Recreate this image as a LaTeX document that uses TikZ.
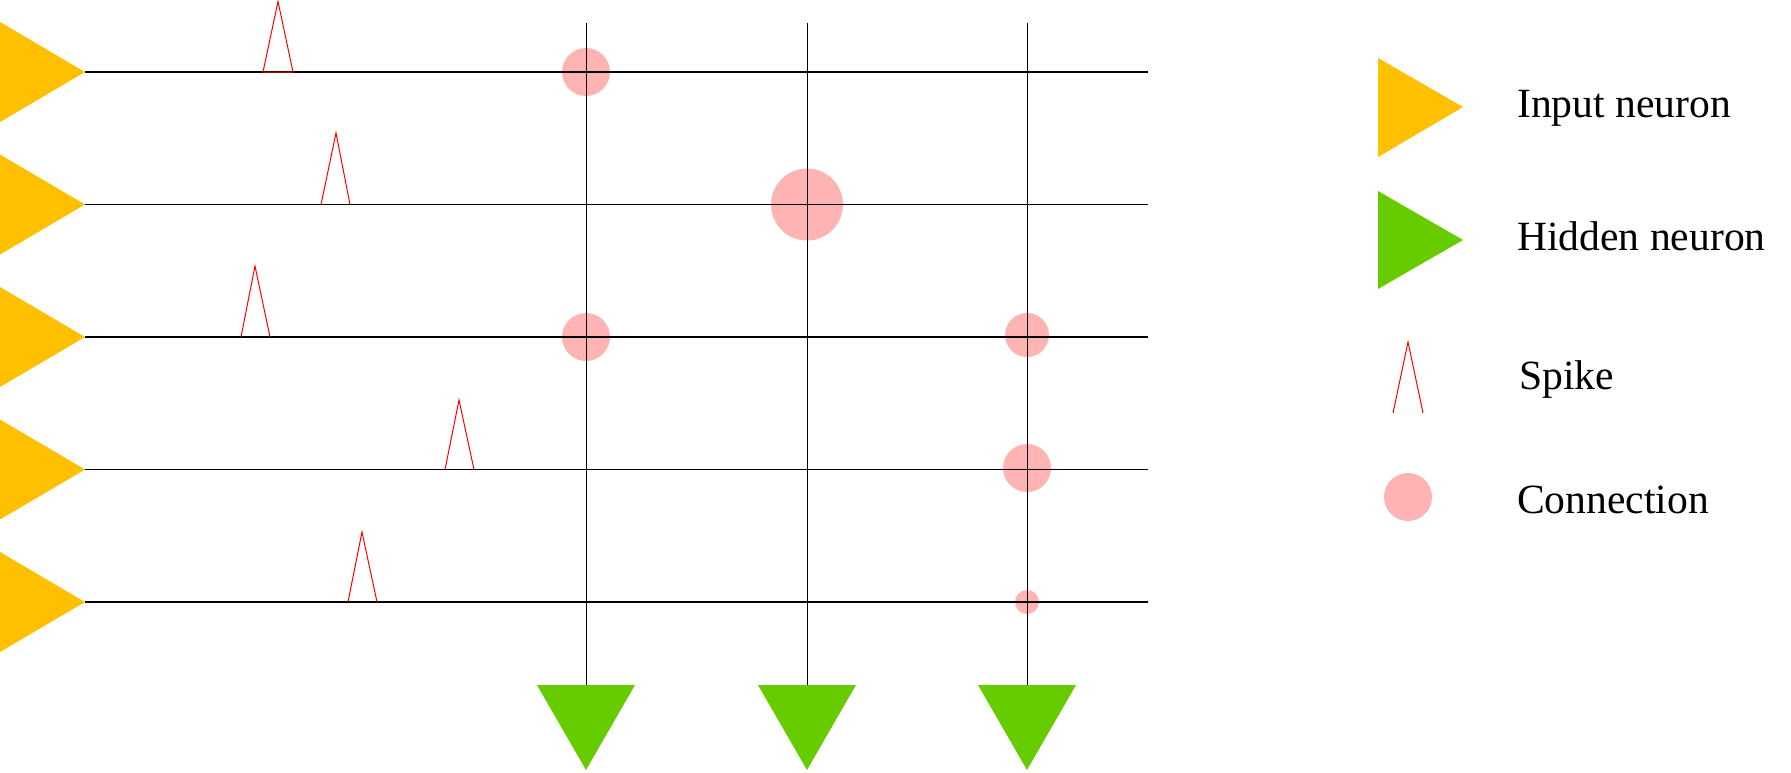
\documentclass[tikz,border=0pt]{standalone}
\usepackage{fontspec}
\setmainfont{Liberation Serif}
\definecolor{inputc}{HTML}{FFC000}
\definecolor{hiddenc}{HTML}{66CC00}
\definecolor{connc}{HTML}{FFB3B3}
\begin{document}
\begin{tikzpicture}[x=1pt,y=-1pt,
  wire/.style={black,line width=1.3pt},
  vwire/.style={black,line width=1pt},
  spikeline/.style={red,line width=1pt,line join=miter},
  conn/.style={fill=connc},
  inputtri/.style={fill=inputc},
  hiddentri/.style={fill=hiddenc},
  legtext/.style={anchor=base west,font=\fontsize{41.6}{49}\selectfont,inner sep=0pt}]
\useasboundingbox (0,0) rectangle (1791,772);
% input neurons and row ends
\foreach \i/\y in {1/72,2/204.5,3/337,4/469.5,5/602}{
  \fill[inputtri] (0,\y-50) -- (85,\y) -- (0,\y+50) -- cycle;
  \coordinate (in\i) at (85,\y);
  \coordinate (re\i) at (1148,\y);
}
% hidden neurons and column tops
\foreach \j/\x in {1/586,2/807,3/1027}{
  \coordinate (ct\j) at (\x,23);
  \coordinate (h\j) at (\x,685);
  \fill[hiddentri] (\x-49,685) -- (\x+49,685) -- (\x,770) -- cycle;
}
% connections
\fill[conn] (586,72) circle (24);
\fill[conn] (807,204.5) circle (36);
\fill[conn] (586,337) circle (24);
\fill[conn] (1027,335) circle (22);
\fill[conn] (1027,468) circle (24);
\fill[conn] (1027,602) circle (12);
% wires
\foreach \i in {1,...,5}{\draw[wire] (in\i) -- (re\i);}
\foreach \j in {1,2,3}{\draw[vwire] (ct\j) -- (h\j);}
% spikes
\draw[spikeline] (263,72) -- (278,1.5) -- (293,72) -- cycle;
\draw[spikeline] (321,204.5) -- (336,133) -- (350,204.5);
\draw[spikeline] (241,337) -- (255,266) -- (270,337);
\draw[spikeline] (445,469.5) -- (459,400) -- (474,469.5);
\draw[spikeline] (348,602) -- (362,532) -- (377,602);
% legend
\fill[inputtri] (1378,58) -- (1463,107) -- (1378,157) -- cycle;
\node[legtext] (linput) at (1517,117) {Input neuron};
\fill[hiddentri] (1378,191) -- (1463,240) -- (1378,289) -- cycle;
\node[legtext] (lhidden) at (1517,250) {Hidden neuron};
\draw[spikeline] (1393,413) -- (1408,342) -- (1423,413);
\node[legtext] (lspike) at (1519,389) {Spike};
\fill[conn] (1408,497) circle (24);
\node[legtext] (lconn) at (1517,513) {Connection};
\end{tikzpicture}
\end{document}
